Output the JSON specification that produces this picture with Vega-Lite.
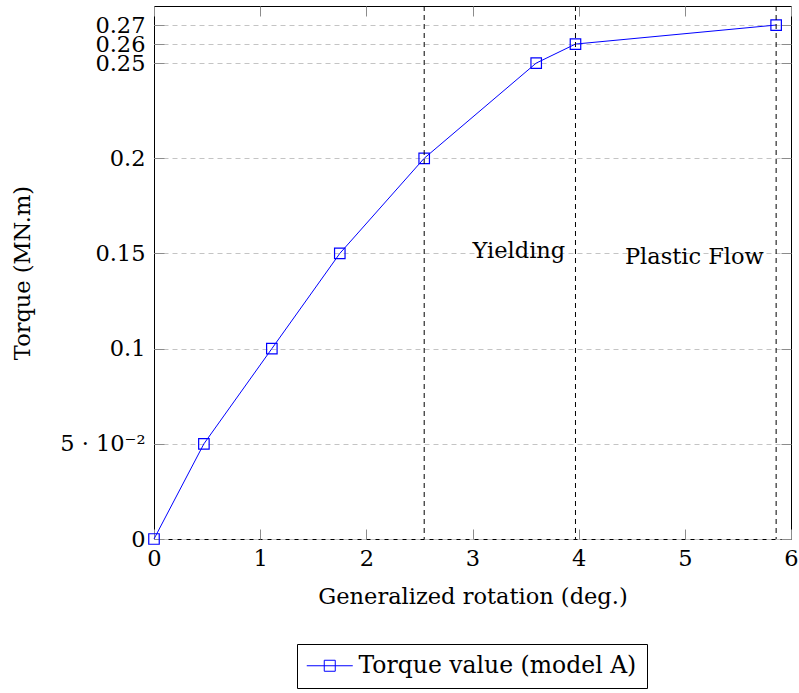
{
  "$schema": "https://vega.github.io/schema/vega-lite/v6.json",
  "autosize": {"type": "none"},
  "width": 637,
  "height": 533,
  "padding": {"left": 154, "top": 6, "right": 8, "bottom": 154},
  "background": "white",
  "config": {
    "font": "DejaVu Serif",
    "view": {"stroke": "#000000", "strokeWidth": 1},
    "axis": {
      "labelFont": "DejaVu Serif",
      "titleFont": "DejaVu Serif",
      "labelFontSize": 22.5,
      "titleFontSize": 22.5,
      "labelColor": "#000000",
      "titleColor": "#000000",
      "titleFontWeight": "normal",
      "domain": false,
      "tickColor": "#8c8c8c",
      "tickWidth": 1,
      "tickSize": -10,
      "grid": false,
      "labelOverlap": false,
      "labelFlush": false
    },
    "legend": {
      "labelFont": "DejaVu Serif",
      "labelFontSize": 23.5,
      "labelColor": "#000000",
      "labelLimit": 0
    }
  },
  "datasets": {
    "main": [
      {"rot": 0, "torque": 0, "series": "Torque value (model A)"},
      {"rot": 0.47, "torque": 0.05, "series": "Torque value (model A)"},
      {"rot": 1.11, "torque": 0.1, "series": "Torque value (model A)"},
      {"rot": 1.75, "torque": 0.15, "series": "Torque value (model A)"},
      {"rot": 2.545, "torque": 0.2, "series": "Torque value (model A)"},
      {"rot": 3.6, "torque": 0.25, "series": "Torque value (model A)"},
      {"rot": 3.97, "torque": 0.26, "series": "Torque value (model A)"},
      {"rot": 5.86, "torque": 0.27, "series": "Torque value (model A)"}
    ],
    "vlines": [
      {"rot": 2.545},
      {"rot": 3.97},
      {"rot": 5.86}
    ],
    "notes": [
      {"rot": 3.437, "torque": 0.1475, "label": "Yielding"},
      {"rot": 5.09, "torque": 0.1445, "label": "Plastic Flow"}
    ]
  },
  "resolve": {"axis": {"x": "independent", "y": "independent"}},
  "layer": [
    {
      "data": {"name": "main"},
      "mark": {"type": "point", "opacity": 0},
      "encoding": {
        "x": {
          "field": "rot", "type": "quantitative",
          "scale": {"domain": [0, 6], "nice": false, "zero": false},
          "axis": {"orient": "top", "labels": false, "title": null, "values": [0, 1, 2, 3, 4, 5, 6]}
        },
        "y": {
          "field": "torque", "type": "quantitative",
          "scale": {"domain": [0, 0.28], "nice": false, "zero": false},
          "axis": {"orient": "right", "labels": false, "title": null, "values": [0, 0.05, 0.1, 0.15, 0.2, 0.25, 0.26, 0.27]}
        }
      }
    },
    {
      "data": {"name": "main"},
      "mark": {"type": "line", "strokeWidth": 1, "point": {"shape": "square", "filled": false, "size": 110, "strokeWidth": 1.2}},
      "encoding": {
        "x": {
          "field": "rot", "type": "quantitative",
          "axis": {
            "orient": "bottom",
            "values": [0, 1, 2, 3, 4, 5, 6],
            "title": "Generalized rotation (deg.)",
            "labelPadding": 18,
            "titleBaseline": "alphabetic",
            "titleY": 64
          }
        },
        "y": {
          "field": "torque", "type": "quantitative",
          "axis": {
            "orient": "left",
            "values": [0, 0.05, 0.1, 0.15, 0.2, 0.25, 0.26, 0.27],
            "labelExpr": "datum.value == 0.05 ? '5 · 10⁻²' : datum.value == 0 ? '0' : format(datum.value, '.2~f')",
            "title": "Torque (MN.m)",
            "labelPadding": 19,
            "grid": true,
            "gridColor": "#c4c4c4",
            "gridDash": [5, 4],
            "gridWidth": 1,
            "titleAngle": -90,
            "titleBaseline": "alphabetic",
            "titleX": -125
          }
        },
        "color": {
          "field": "series", "type": "nominal",
          "scale": {"domain": ["Torque value (model A)"], "range": ["#0000ff"]},
          "legend": {
            "title": null,
            "orient": "none",
            "legendX": 143,
            "legendY": 638,
            "padding": 10,
            "strokeColor": "#000000",
            "fillColor": "#ffffff",
            "cornerRadius": 0,
            "symbolType": "M-2.3,0H2.3M-0.55,-0.55H0.55V0.55H-0.55Z",
            "symbolSize": 400,
            "symbolOffset": 11,
            "symbolStrokeWidth": 1,
            "symbolFillColor": "transparent",
            "symbolStrokeColor": "#0000ff",
            "labelOffset": 17,
            "labelLimit": 0
          }
        }
      }
    },
    {
      "data": {"name": "vlines"},
      "mark": {"type": "rule", "color": "#000000", "strokeWidth": 1, "strokeDash": [5, 4]},
      "encoding": {
        "x": {"field": "rot", "type": "quantitative", "axis": null}
      }
    },
    {
      "data": {"name": "notes"},
      "mark": {"type": "text", "font": "DejaVu Serif", "fontSize": 22.5, "align": "center", "baseline": "alphabetic", "color": "#000000"},
      "encoding": {
        "x": {"field": "rot", "type": "quantitative", "axis": null},
        "y": {"field": "torque", "type": "quantitative", "axis": null},
        "text": {"field": "label"}
      }
    }
  ]
}
